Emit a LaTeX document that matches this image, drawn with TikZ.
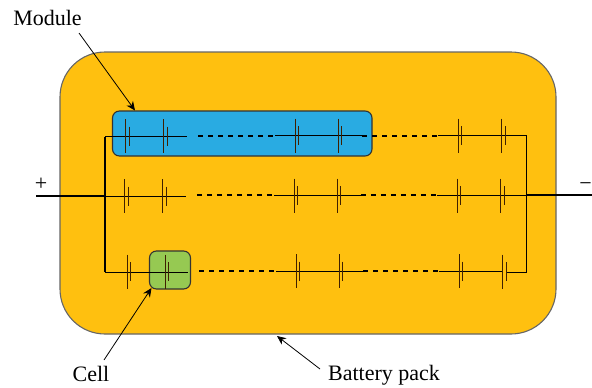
\documentclass[tikz,border=0pt]{standalone}
\usepackage{fontspec}
\setmainfont{Liberation Serif}
\usetikzlibrary{arrows.meta}
\tikzset{
  wire/.style={black,line width=0.8pt},
  mainwire/.style={black,line width=1.4pt},
  dashwire/.style={black,line width=1.5pt,dash pattern=on 5pt off 5pt},
  plate/.style={black!75!orange,line width=1pt},
  lbl/.style={font=\fontsize{22pt}{24pt}\selectfont,inner sep=0pt,text=black,anchor=base},
  pointer/.style={black,line width=0.8pt,-{Stealth[length=9pt,width=8pt]}},
  panel/.style={draw=black!80,line width=1.1pt}
}
\newcommand{\cellat}[2]{%
  \draw[plate] (#1,#2-17) -- (#1,#2+17);
  \draw[plate] (#1+3.7,#2-9.5) -- (#1+3.7,#2+9.5);
}
\begin{document}
\begin{tikzpicture}[x=1pt,y=-1pt]
\useasboundingbox (0,0) rectangle (592,388);
\fill[white] (0,0) rectangle (592,388);
\draw[panel,draw=black!60,fill={rgb,255:red,255;green,192;blue,15},rounded corners=45pt] (60,52) rectangle (556,334);
\draw[panel,fill={rgb,255:red,41;green,171;blue,226},rounded corners=7pt] (112.5,111) rectangle (372,156);
\draw[panel,fill={rgb,255:red,150;green,201;blue,82},rounded corners=7pt] (149.5,251) rectangle (190.5,289);
% row 1
\draw[wire] (105,136.5) -- (187,136.5);
\draw[dashwire] (198,136) -- (275,136);
\draw[wire] (275,135.5) -- (362,135.5);
\draw[dashwire] (362,136) -- (438,136);
\draw[wire] (438,135.5) -- (527,135.5);
\cellat{125.5}{136}\cellat{163.5}{136}\cellat{295}{135.5}\cellat{338}{135.5}\cellat{458}{135.5}\cellat{501.5}{135.5}
% row 2
\draw[wire] (105,196) -- (186,196);
\draw[dashwire] (197,195) -- (274,195);
\draw[wire] (274,195.5) -- (361,195.5);
\draw[dashwire] (361,195) -- (437,195);
\draw[wire] (437,195.5) -- (527,195.5);
\cellat{124.5}{196}\cellat{162.5}{196}\cellat{294}{195.5}\cellat{337}{195.5}\cellat{457}{195.5}\cellat{500.5}{195.5}
% row 3
\draw[wire] (105,272) -- (188,272);
\draw[dashwire] (199,271) -- (276,271);
\draw[wire] (276,271) -- (363,271);
\draw[dashwire] (363,271) -- (439,271);
\draw[wire] (439,271) -- (502,271);
\draw[wire] (506,272) -- (527,272);
\cellat{127}{271.5}\cellat{165}{271.5}\cellat{296}{271}\cellat{339}{271}\cellat{459}{271}\cellat{502.5}{271.5}
% buses
\draw[mainwire] (105,136.5) -- (105,272);
\draw[mainwire] (526.7,135.5) -- (526.7,272);
\coordinate (pl) at (36,196);
\coordinate (plj) at (105,196);
\coordinate (mi) at (592,195);
\coordinate (mij) at (526.7,195);
\draw[mainwire] (pl) -- (plj);
\draw[mainwire] (mij) -- (mi);
% labels
\node[lbl] (plus) at (41,190) {+};
\node[lbl] (minus) at (585.5,190) {−};
\node[lbl] (module) at (47.5,25) {Module};
\node[lbl] (cell) at (91,381.5) {Cell};
\node[lbl] (pack) at (384,380) {Battery pack};
\coordinate (tm) at (135,110.5);
\coordinate (tc) at (151.5,288);
\coordinate (tp) at (277,336);
\coordinate (sm) at (79,33);
\coordinate (sc) at (104,360);
\coordinate (sp) at (320,369);
\draw[pointer] (sm) -- (tm);
\draw[pointer] (sc) -- (tc);
\draw[pointer] (sp) -- (tp);
\end{tikzpicture}
\end{document}
